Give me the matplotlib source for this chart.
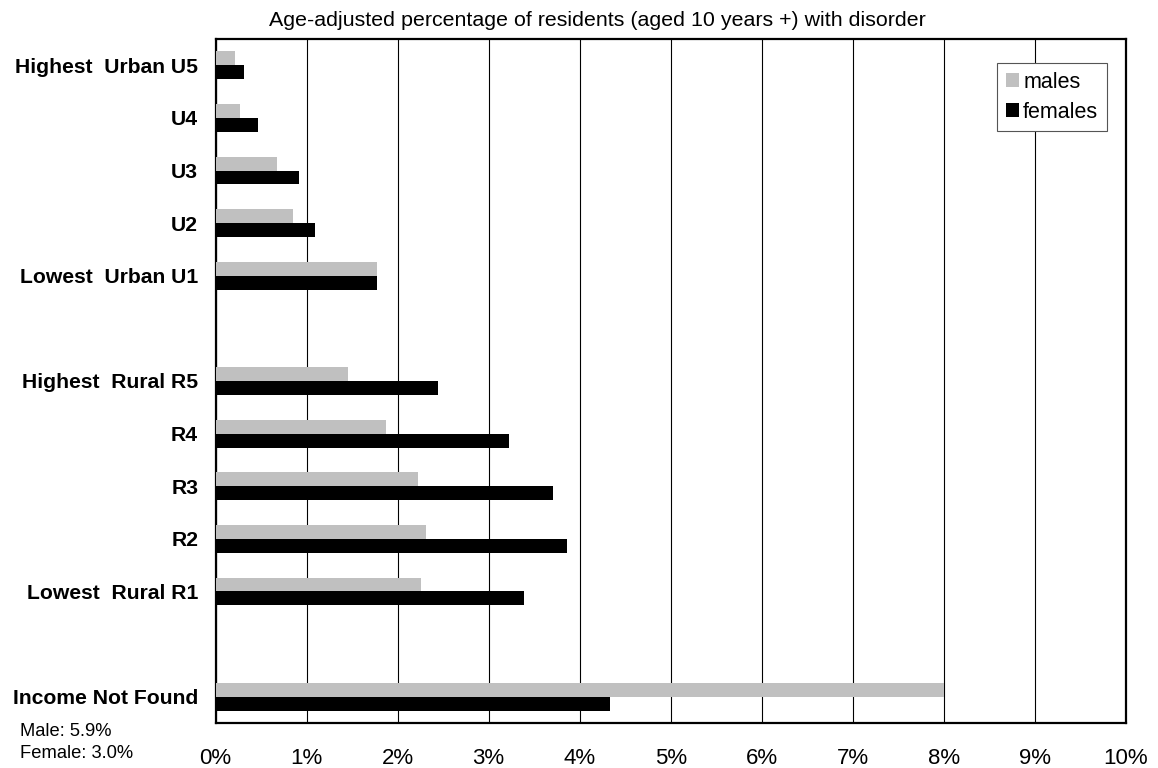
# Recreate: age-adjusted percentage of residents with disorder, by income quintile
import numpy as np
import matplotlib.pyplot as plt
from matplotlib.ticker import PercentFormatter

plt.rcParams["font.family"] = ["Liberation Sans", "DejaVu Sans"]

categories = ["Highest  Urban U5", "U4", "U3", "U2", "Lowest  Urban U1",
              "Highest  Rural R5", "R4", "R3", "R2", "Lowest  Rural R1",
              "Income Not Found"]
males = [0.21, 0.27, 0.68, 0.85, 1.77, 1.45, 1.87, 2.22, 2.31, 2.26, 8.0]
females = [0.31, 0.47, 0.92, 1.09, 1.77, 2.44, 3.22, 3.71, 3.86, 3.39, 4.33]
xticks = list(range(0, 11))

subtitle = "Age-adjusted percentage of residents (aged 10 years +) with disorder"
note_lines = ["Male: 5.9%", "Female: 3.0%"]

# blank slot after the urban group and after the rural group
pos = np.array([i + (i >= 5) + (i >= 10) for i in range(len(categories))])
h = 0.265

fig = plt.figure(figsize=(11.58, 7.68), dpi=100)
ax = fig.add_axes([215.5 / 1158, 45 / 768, 910.5 / 1158, 684 / 768])

ax.barh(pos - h / 2, males, height=h, color="#c0c0c0", label="males", zorder=3)
ax.barh(pos + h / 2, females, height=h, color="black", label="females", zorder=3)

ax.set_xlim(0, 10)
ax.set_ylim(12.5, -0.5)
ax.set_xticks(xticks)
ax.xaxis.set_major_formatter(PercentFormatter(decimals=0))
ax.set_yticks(pos)
ax.set_yticklabels(categories, fontweight="bold", fontsize=15.2)
ax.tick_params(axis="x", length=0, pad=18, labelsize=16)
ax.tick_params(axis="y", length=0, pad=12.5)
ax.grid(axis="x", color="black", linewidth=0.8, zorder=1)
for s in ax.spines.values():
    s.set_linewidth(1.6)

leg = ax.legend(loc="upper right", bbox_to_anchor=(0.979, 0.965), borderaxespad=0,
                fontsize=15.5, fancybox=False, framealpha=1, edgecolor="#555555",
                handlelength=0.6, handleheight=0.6, handletextpad=0.2,
                labelspacing=0.42, borderpad=0.4)
leg.get_frame().set_linewidth(0.8)

fig.text(597 / 1158, 1 - 26 / 768, subtitle, ha="center", va="baseline", fontsize=15.4)
fig.text(20 / 1158, 1 - 731 / 768, note_lines[0], ha="left", va="center", fontsize=13.2)
fig.text(20 / 1158, 1 - 754 / 768, note_lines[1], ha="left", va="center", fontsize=13.2)

plt.savefig("out.png", dpi=100)
